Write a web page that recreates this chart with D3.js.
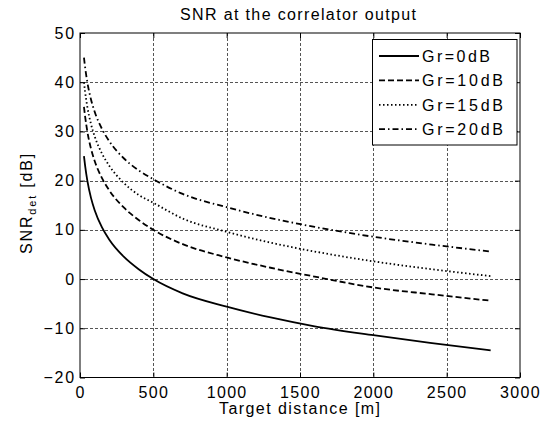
<!DOCTYPE html>
<html>
<head>
<meta charset="utf-8">
<script src="https://cdn.jsdelivr.net/npm/d3@7"></script>
<style>
  html, body { margin: 0; padding: 0; background: #fff; }
  svg { display: block; font-family: "Liberation Sans", Arial, sans-serif; }
</style>
</head>
<body>
<svg id="chart" width="541" height="430"></svg>
<script>
// ---- data ----
const distance = [27, 35, 50, 75, 100, 150, 200, 300, 400, 500, 700, 1000, 1300, 1600, 2000, 2400, 2800];
const snrGr0  = [25, 23, 20, 16.5, 14, 10.5, 8, 4.5, 2, 0, -2.9, -5.6, -7.8, -9.6, -11.4, -13, -14.5];
const snrGr10 = [35, 33, 30, 26.5, 24, 20.5, 18, 14.5, 12, 10, 7.1, 4.4, 2.3, 0.5, -1.7, -3.1, -4.4];
const snrGr15 = [40, 38, 35, 31.5, 29, 25.5, 23, 19.5, 17.1, 15.5, 12.3, 9.6, 7.4, 5.6, 3.6, 2.0, 0.6];
const snrGr20 = [45, 43, 40, 36.5, 34, 30.5, 28, 24.5, 22.1, 20.3, 17.3, 14.6, 12.4, 10.6, 8.6, 7.0, 5.6];
const seriesNames = ["Gr=0dB", "Gr=10dB", "Gr=15dB", "Gr=20dB"];
const xTicks = [0, 500, 1000, 1500, 2000, 2500, 3000];
const yTicks = [-20, -10, 0, 10, 20, 30, 40, 50];
const titleText = "SNR at the correlator output";
const xLabelText = "Target distance [m]";

// ---- layout ----
const svg = d3.select("#chart");
const L = 80, R = 520, T = 33, B = 377.5;
const x = d3.scaleLinear().domain([0, 3000]).range([L, R]);
const y = d3.scaleLinear().domain([-20, 50]).range([B, T]);

const series = [snrGr0, snrGr10, snrGr15, snrGr20].map((vals, i) => ({
  name: seriesNames[i],
  points: distance.map((d, j) => [d, vals[j]])
}));
const dashes = [null, "6,3", "1.5,2.5", "6,3,1.5,3"];
const legendWidths = [68, 81, 81, 81];

// grid
const grid = svg.append("g").attr("stroke", "#555").attr("stroke-width", 1)
  .attr("stroke-dasharray", "3,2").attr("shape-rendering", "crispEdges");
grid.selectAll("line.v").data(xTicks.slice(1, -1)).join("line")
  .attr("x1", d => Math.round(x(d)) + 0.5).attr("x2", d => Math.round(x(d)) + 0.5)
  .attr("y1", T).attr("y2", B);
grid.selectAll("line.h").data(yTicks.slice(1, -1)).join("line")
  .attr("y1", d => Math.round(y(d)) + 0.5).attr("y2", d => Math.round(y(d)) + 0.5)
  .attr("x1", L).attr("x2", R);

// axes
function styleAxis(g, ls) {
  g.select(".domain").remove();
  g.selectAll(".tick line").attr("stroke", "#000");
  g.selectAll(".tick text").attr("fill", "#000").attr("font-size", 16)
    .attr("font-family", "Liberation Sans, Arial, sans-serif").attr("letter-spacing", ls + "px");
}
svg.append("g").attr("transform", `translate(0,${B})`)
  .call(d3.axisBottom(x).tickValues(xTicks).tickSize(-5).tickPadding(9).tickFormat(d3.format("d")))
  .call(styleAxis, 1.3);
svg.append("g").attr("transform", `translate(0,${T})`)
  .call(d3.axisTop(x).tickValues(xTicks).tickSize(-5).tickFormat(""))
  .call(styleAxis, 0);
svg.append("g").attr("transform", `translate(${L},0)`)
  .call(d3.axisLeft(y).tickValues(yTicks).tickSize(-5).tickPadding(4).tickFormat(d3.format("d")))
  .call(styleAxis, 1.8);
svg.append("g").attr("transform", `translate(${R},0)`)
  .call(d3.axisRight(y).tickValues(yTicks).tickSize(-5).tickFormat(""))
  .call(styleAxis, 0);

// box
svg.append("rect").attr("x", L).attr("y", T).attr("width", R - L).attr("height", B - T)
  .attr("fill", "none").attr("stroke", "#000").attr("stroke-width", 1);

// lines
const line = d3.line().x(d => x(d[0])).y(d => y(d[1])).curve(d3.curveMonotoneX);
svg.append("g").selectAll("path").data(series).join("path")
  .attr("d", d => line(d.points))
  .attr("fill", "none").attr("stroke", "#000").attr("stroke-width", 1.8)
  .attr("stroke-dasharray", (d, i) => dashes[i]);

// legend
const lg = svg.append("g");
lg.append("rect").attr("x", 372.5).attr("y", 39.5).attr("width", 144.5).attr("height", 105.5)
  .attr("fill", "#fff").attr("stroke", "#000").attr("stroke-width", 1);
series.forEach((s, i) => {
  const by = 56 + i * 24.4;
  lg.append("line").attr("x1", 379).attr("x2", 419).attr("y1", by).attr("y2", by)
    .attr("stroke", "#000").attr("stroke-width", 1.8).attr("stroke-dasharray", dashes[i]);
  lg.append("text").attr("x", 422).attr("y", by + 6).attr("font-size", 16)
    .attr("textLength", legendWidths[i]).attr("lengthAdjust", "spacing")
    .text(s.name);
});

// title
svg.append("text").attr("x", 298).attr("y", 20).attr("text-anchor", "middle")
  .attr("font-size", 16).attr("textLength", 236).attr("lengthAdjust", "spacing").text(titleText);

// x label
svg.append("text").attr("x", 299.5).attr("y", 413.5).attr("text-anchor", "middle")
  .attr("font-size", 16).attr("textLength", 161).attr("lengthAdjust", "spacing").text(xLabelText);

// y label
const yl = svg.append("text").attr("transform", "translate(32,203) rotate(-90)")
  .attr("text-anchor", "middle").attr("font-size", 16).attr("letter-spacing", "1.8px");
yl.append("tspan").text("SNR");
yl.append("tspan").attr("font-size", 11).attr("dy", 4).text("det");
yl.append("tspan").attr("dy", -4).text(" [dB]");
</script>
</body>
</html>
